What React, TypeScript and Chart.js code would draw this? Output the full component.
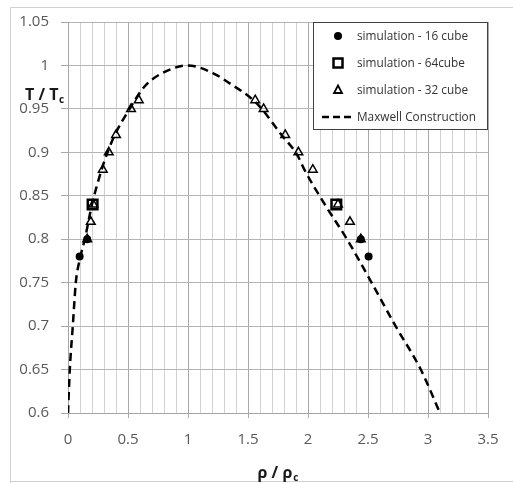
import React, { useEffect, useRef } from 'react';
import { Chart, registerables } from 'chart.js';

Chart.register(...registerables);

const seriesNames = ['simulation - 16 cube', 'simulation - 64cube', 'simulation - 32 cube', 'Maxwell Construction'];

const sim16Rho = [0.097, 0.16, 2.44, 2.505];
const sim16T = [0.78, 0.8, 0.8, 0.78];

const sim64Rho = [0.205, 2.236];
const sim64T = [0.84, 0.84];

const sim32Rho = [0.16, 0.19, 0.21, 0.29, 0.34, 0.4, 0.525, 0.59, 1.56, 1.63, 1.81, 1.92, 2.04, 2.25, 2.35, 2.44];
const sim32T = [0.8, 0.82, 0.84, 0.88, 0.9, 0.92, 0.95, 0.96, 0.96, 0.95, 0.92, 0.9, 0.88, 0.84, 0.82, 0.8];

const maxwellRho = [0.0, 0.015, 0.04, 0.065, 0.095, 0.14, 0.2, 0.28, 0.33, 0.39, 0.5, 0.64, 0.77, 1.0, 1.21, 1.33, 1.575, 1.78, 1.91, 1.97, 2.14, 2.325, 2.53, 2.73, 2.94, 3.1];
const maxwellT = [0.6, 0.65, 0.7, 0.75, 0.775, 0.8, 0.84, 0.88, 0.9, 0.92, 0.947, 0.976, 0.99, 1.0, 0.991, 0.981, 0.956, 0.92, 0.897, 0.88, 0.84, 0.8, 0.75, 0.7, 0.65, 0.6];

const xTickValues = [0, 0.5, 1, 1.5, 2, 2.5, 3, 3.5];
const xTickLabels = ['0', '0.5', '1', '1.5', '2', '2.5', '3', '3.5'];
const yTickValues = [0.6, 0.65, 0.7, 0.75, 0.8, 0.85, 0.9, 0.95, 1, 1.05];
const yTickLabels = ['0.6', '0.65', '0.7', '0.75', '0.8', '0.85', '0.9', '0.95', '1', '1.05'];

const zip = (xs: number[], ys: number[]) => xs.map((x, i) => ({ x, y: ys[i] }));
const findIdx = (arr: number[], v: number) => arr.findIndex((a) => Math.abs(a - v) < 1e-6);
const isMajorX = (v: number) => findIdx(xTickValues, v) >= 0;

const FONT = '"Open Sans", "DejaVu Sans", sans-serif';

const decorPlugin = {
  id: 'decor',
  beforeDraw(chart: any) {
    const ctx = chart.ctx;
    ctx.save();
    ctx.fillStyle = '#ffffff';
    ctx.fillRect(0, 0, chart.width, chart.height);
    ctx.strokeStyle = '#d0d0d0';
    ctx.lineWidth = 1;
    ctx.beginPath();
    ctx.moveTo(10.5, 483);
    ctx.lineTo(10.5, 7.5);
    ctx.lineTo(513, 7.5);
    ctx.moveTo(10.5, 481.5);
    ctx.lineTo(513, 481.5);
    ctx.stroke();
    ctx.restore();
  },
  afterDraw(chart: any) {
    const ctx = chart.ctx;
    const area = chart.chartArea;
    ctx.save();
    // Y title
    ctx.fillStyle = '#1a1a1a';
    ctx.textBaseline = 'alphabetic';
    ctx.textAlign = 'left';
    ctx.font = 'bold 16px ' + FONT;
    const yMain = 'T / T';
    ctx.fillText(yMain, 25, 100);
    const w1 = ctx.measureText(yMain).width;
    ctx.font = 'bold 10px ' + FONT;
    ctx.fillText('c', 25 + w1 + 0.5, 103);
    // X title
    ctx.font = 'bold 16px ' + FONT;
    const xMain = 'ρ / ρ';
    const wx = ctx.measureText(xMain).width;
    ctx.font = 'bold 10px ' + FONT;
    const wc = ctx.measureText('c').width;
    const cx = (area.left + area.right) / 2;
    const sx = cx - (wx + wc + 1) / 2;
    ctx.font = 'bold 16px ' + FONT;
    ctx.fillText(xMain, sx, 478);
    ctx.font = 'bold 10px ' + FONT;
    ctx.fillText('c', sx + wx + 1, 481);

    // Legend
    const lx = 313, ly = 22, lw = 175, lh = 108;
    ctx.fillStyle = '#ffffff';
    ctx.fillRect(lx, ly, lw, lh);
    ctx.strokeStyle = '#404040';
    ctx.lineWidth = 1;
    ctx.strokeRect(lx + 0.5, ly + 0.5, lw - 1, lh - 1);
    const mx = 338;
    const tx = 357;
    ctx.font = '11.8px ' + FONT;
    ctx.textBaseline = 'middle';
    seriesNames.forEach((name, i) => {
      const y = 36 + i * 27;
      ctx.fillStyle = '#000';
      ctx.strokeStyle = '#000';
      if (i === 0) {
        ctx.beginPath();
        ctx.arc(mx, y, 4, 0, Math.PI * 2);
        ctx.fill();
      } else if (i === 1) {
        ctx.lineWidth = 2.5;
        ctx.strokeRect(mx - 4.5, y - 4.5, 9, 9);
      } else if (i === 2) {
        ctx.lineWidth = 1.8;
        ctx.beginPath();
        ctx.moveTo(mx, y - 4.5);
        ctx.lineTo(mx + 4, y + 3);
        ctx.lineTo(mx - 4, y + 3);
        ctx.closePath();
        ctx.stroke();
      } else {
        ctx.lineWidth = 2.5;
        ctx.setLineDash([7, 4]);
        ctx.beginPath();
        ctx.moveTo(322, y);
        ctx.lineTo(352, y);
        ctx.stroke();
        ctx.setLineDash([]);
      }
      ctx.fillStyle = '#333333';
      ctx.fillText(name, tx, y + 0.5);
    });
    ctx.restore();
  },
};

export default function App() {
  const ref = useRef<HTMLCanvasElement | null>(null);
  useEffect(() => {
    if (!ref.current) return;
    const chart = new Chart(ref.current, {
      type: 'scatter',
      data: {
        datasets: [
          {
            label: seriesNames[0],
            data: zip(sim16Rho, sim16T),
            pointStyle: 'circle',
            pointRadius: 4,
            backgroundColor: '#000',
            borderColor: '#000',
            borderWidth: 0,
            order: 1,
          },
          {
            label: seriesNames[1],
            data: zip(sim64Rho, sim64T),
            pointStyle: 'rect',
            pointRadius: 6.8,
            backgroundColor: 'rgba(0,0,0,0)',
            borderColor: '#000',
            borderWidth: 2.5,
            order: 2,
          },
          {
            label: seriesNames[2],
            data: zip(sim32Rho, sim32T),
            pointStyle: 'triangle',
            pointRadius: 5,
            backgroundColor: 'rgba(0,0,0,0)',
            borderColor: '#000',
            borderWidth: 1.5,
            order: 0,
          },
          {
            label: seriesNames[3],
            data: zip(maxwellRho, maxwellT),
            showLine: true,
            pointRadius: 0,
            borderColor: '#000',
            borderWidth: 2.5,
            borderDash: [8, 5],
            cubicInterpolationMode: 'monotone',
            fill: false,
            order: 3,
          },
        ],
      },
      options: {
        animation: false,
        responsive: false,
        layout: { padding: { top: 22, right: 25, left: 0, bottom: 0 } },
        plugins: { legend: { display: false }, tooltip: { enabled: false } },
        scales: {
          x: {
            type: 'linear',
            min: 0,
            max: 3.5,
            afterFit: (s: any) => { s.height = 70; },
            border: { display: true, color: '#a6a6a6', width: 1 },
            grid: {
              color: (c: any) => (isMajorX(c.tick.value) ? '#a8a8a8' : '#d2d2d2'),
              tickColor: (c: any) => (isMajorX(c.tick.value) ? '#a8a8a8' : 'rgba(0,0,0,0)'),
              tickLength: 5,
              lineWidth: 1,
            },
            ticks: {
              stepSize: 0.1,
              maxTicksLimit: 100,
              autoSkip: false,
              maxRotation: 0,
              padding: 13,
              color: '#595959',
              font: { family: FONT, size: 15 },
              callback: (v: any) => {
                const i = findIdx(xTickValues, Number(v));
                return i >= 0 ? xTickLabels[i] : '';
              },
            },
          },
          y: {
            type: 'linear',
            min: 0.6,
            max: 1.05,
            afterFit: (s: any) => { s.width = 68; },
            border: { display: true, color: '#a6a6a6', width: 1 },
            grid: { color: '#b5b5b5', tickColor: '#a8a8a8', tickLength: 7, lineWidth: 1 },
            ticks: {
              stepSize: 0.05,
              padding: 12,
              color: '#595959',
              font: { family: FONT, size: 15 },
              callback: (v: any) => {
                const i = findIdx(yTickValues, Number(v));
                return i >= 0 ? yTickLabels[i] : '';
              },
            },
          },
        },
      },
      plugins: [decorPlugin],
    } as any);
    return () => chart.destroy();
  }, []);
  return (
    <div style={{ position: 'absolute', left: 0, top: 0, width: 513, height: 483 }}>
      <canvas ref={ref} width={513} height={483} style={{ width: 513, height: 483, display: 'block' }} />
    </div>
  );
}
